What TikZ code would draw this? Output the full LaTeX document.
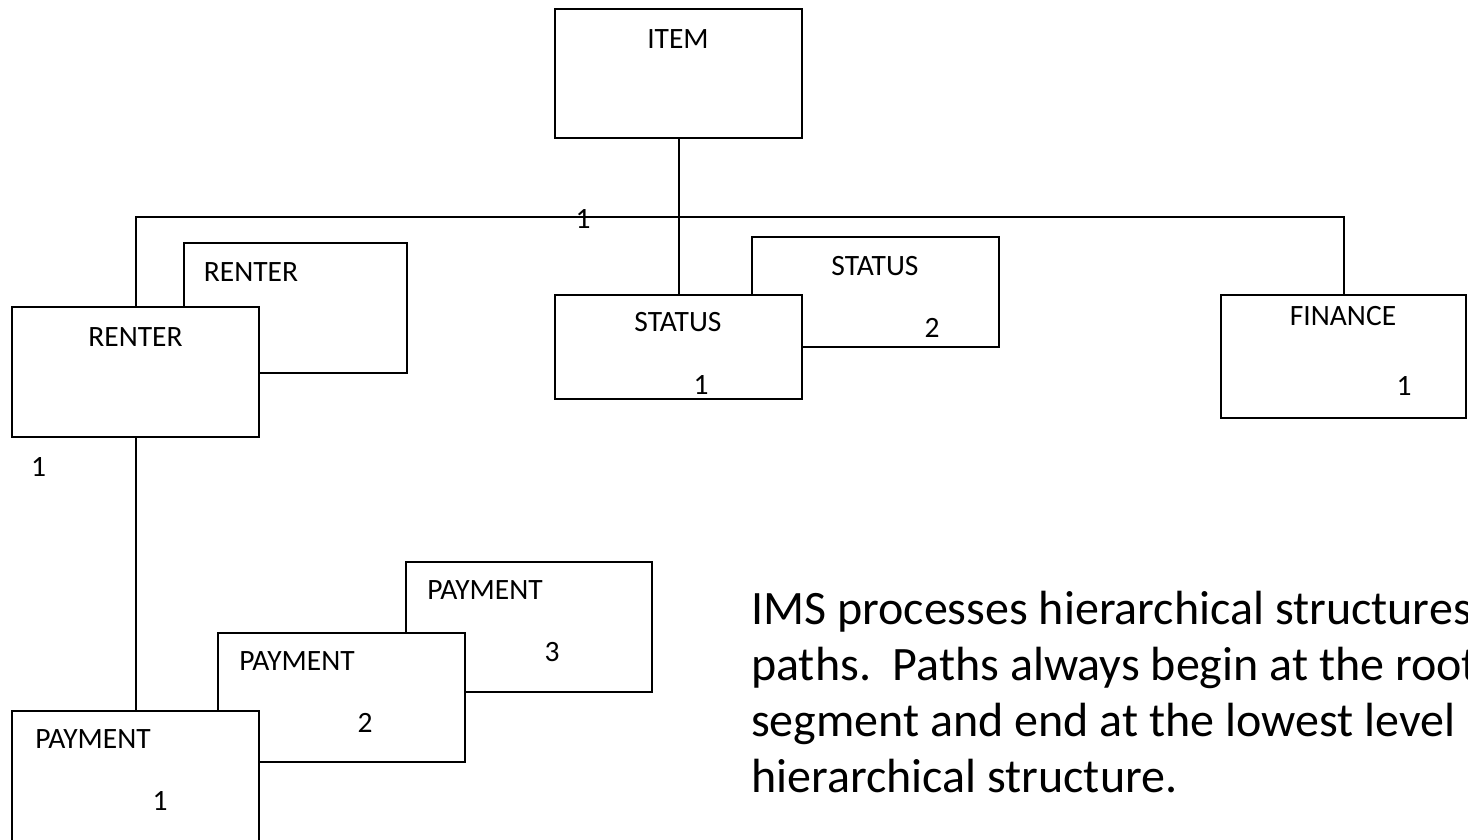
\documentclass[tikz,border=0pt]{standalone}
\usepackage{fontspec}
\setmainfont{Carlito}
\frenchspacing
\begin{document}
\begin{tikzpicture}[x=1pt, y=-1pt,
  seg/.style={draw=black, line width=2pt, fill=white, rectangle, inner sep=0pt},
  lbl/.style={inner sep=0pt, font=\fontsize{29.5}{34}\selectfont},
  note/.style={inner sep=0pt, anchor=base west, font=\fontsize{48}{56}\selectfont},
  link/.style={line width=2pt, line join=miter}]
  % canvas
  \fill[white] (0,0) rectangle (1468,839);
  \useasboundingbox (0,0) rectangle (1468,839);
  \clip (0,0) rectangle (1468,839);

  % root segment
  \node[seg, minimum width=247pt, minimum height=129pt] (item) at (678.5,73.5) {};

  % occurrence stacks: the rear copies first
  \node[seg, minimum width=223pt, minimum height=130pt] (renterB) at (295.5,308) {};
  \node[seg, minimum width=247pt, minimum height=110pt] (statusB) at (875.5,292) {};
  \node[seg, minimum width=246pt, minimum height=130pt] (payC) at (529,627) {};
  \node[seg, minimum width=247pt, minimum height=129pt] (payB) at (341.5,697.5) {};

  % front copies
  \node[seg, minimum width=247pt, minimum height=130pt] (renterA) at (135.5,372) {};
  \node[seg, minimum width=247pt, minimum height=104pt] (statusA) at (678.5,347) {};
  \node[seg, minimum width=245pt, minimum height=123pt] (finance) at (1343.5,356.5) {};
  \node[seg, minimum width=247pt, minimum height=149pt] (payA) at (135.5,785.5) {};

  % parent-child links
  \coordinate (busR) at (1343.5,217);
  \draw[link] (item.south) -- (statusA.north);
  \draw[link] (renterA.north) |- (busR) -- (finance.north);
  \draw[link] (renterA.south) -- (payA.north);

  % segment labels
  \node[lbl] (tItem) at (678,39) {ITEM};
  \node[lbl] (tRenterB) at (251,272) {RENTER};
  \node[lbl] (tRenterA) at (135.5,337) {RENTER};
  \node[lbl] (tStatusB) at (875,266) {STATUS};
  \node[lbl] (nStatusB) at (932,328) {2};
  \node[lbl] (tStatusA) at (678,322) {STATUS};
  \node[lbl] (nStatusA) at (701,385) {1};
  \node[lbl] (tFinance) at (1343,316) {FINANCE};
  \node[lbl] (nFinance) at (1404,386) {1};
  \node[lbl] (tPayC) at (485,590) {PAYMENT};
  \node[lbl] (nPayC) at (552,652) {3};
  \node[lbl] (tPayB) at (297,661) {PAYMENT};
  \node[lbl] (nPayB) at (365,723) {2};
  \node[lbl] (tPayA) at (93,739) {PAYMENT};
  \node[lbl] (nPayA) at (160,801) {1};

  % counts on the links
  \node[lbl] (cBus) at (583,219) {1};
  \node[lbl] (cRenter) at (38.5,467) {1};

  % explanatory text
  \node[note] (line1) at (751,624) {IMS processes hierarchical structures};
  \node[note] (line2) at (751,680) {paths.\ \ Paths always begin at the root};
  \node[note] (line3) at (751,736) {segment and end at the lowest level};
  \node[note] (line4) at (751,792) {hierarchical structure.};
\end{tikzpicture}
\end{document}
